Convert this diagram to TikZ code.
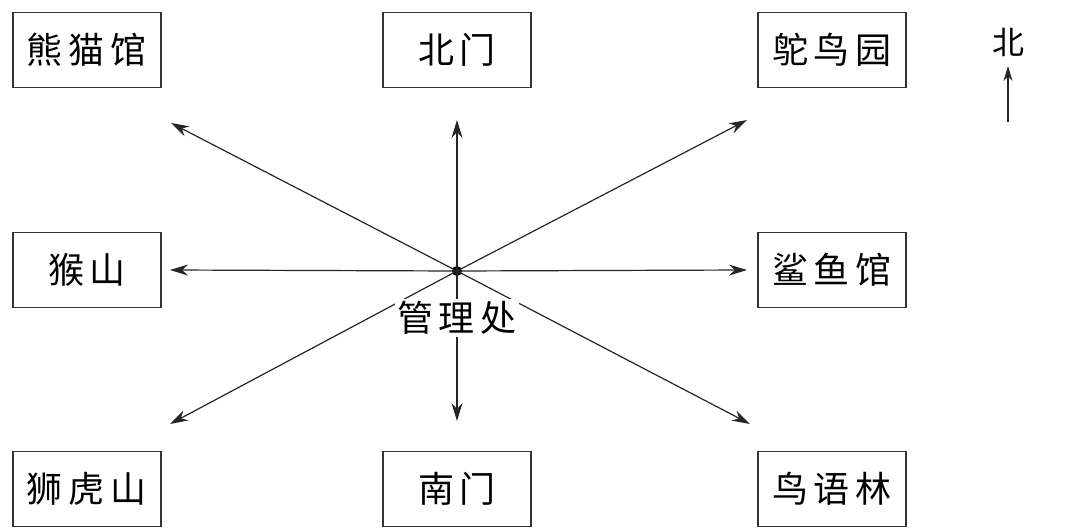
\documentclass[tikz,border=0pt]{standalone}
\usepackage{fontspec}
\setmainfont{Noto Sans CJK SC}
\usetikzlibrary{arrows.meta}
\begin{document}
\begin{tikzpicture}[x=1pt,y=-1pt,
  place/.style={draw=black!80,line width=1.3pt,minimum width=148pt,minimum height=75pt,inner sep=0pt,font=\fontsize{36}{36}\selectfont},
  ray/.style={line width=1.2pt,draw=black!85,-{Stealth[length=18pt,width=11pt]}}]
\useasboundingbox (0,0) rectangle (1068,532);
\fill[white] (0,0) rectangle (1068,532);
\node[place] (panda) at (87,50) {熊\,猫\,馆};
\node[place] (north) at (457,50) {北\,门};
\node[place] (ostrich) at (832,50) {鸵\,鸟\,园};
\node[place] (monkey) at (87,270) {猴\,山};
\node[place] (shark) at (832,270) {鲨\,鱼\,馆};
\node[place] (lion) at (87,489) {狮\,虎\,山};
\node[place] (south) at (457,489) {南\,门};
\node[place] (birds) at (832,489) {鸟\,语\,林};
\node[circle,fill=black,inner sep=0pt,minimum size=10pt] (c) at (457,271) {};
\coordinate (tN) at (457,120);
\coordinate (tS) at (457,421);
\coordinate (tW) at (170,270);
\coordinate (tE) at (747,270);
\coordinate (tNW) at (171,123);
\coordinate (tNE) at (747,120);
\coordinate (tSW) at (170,424);
\coordinate (tSE) at (750,424);
\foreach \t in {tN,tS,tW,tE,tNW,tNE,tSW,tSE}
  \draw[ray] (c.center) -- (\t);
\node[fill=white,inner sep=2pt,font=\fontsize{36}{36}\selectfont] (office) at (457,318) {管\,理\,处};
\node[font=\fontsize{32}{32}\selectfont,inner sep=0pt] (N) at (1008,42) {北};
\coordinate (nb) at (1008,122);
\coordinate (nt) at (1008,66);
\draw[ray,-{Stealth[length=15pt,width=9pt]}] (nb) -- (nt);
\end{tikzpicture}
\end{document}
